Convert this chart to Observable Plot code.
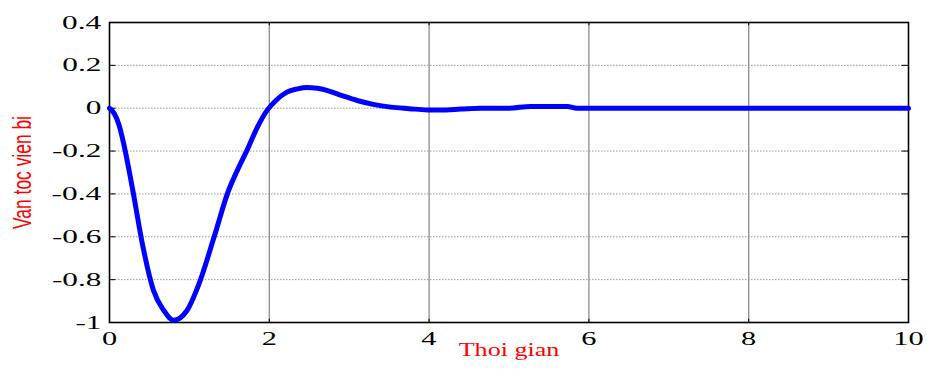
<!DOCTYPE html>
<html><head><meta charset="utf-8">
<script src="https://cdn.jsdelivr.net/npm/d3@7"></script>
<script src="https://cdn.jsdelivr.net/npm/@observablehq/plot@0.6"></script>
<style>
body{margin:0;background:#fff;}
</style>
</head><body>
<div id="chart"></div>
<script>
const time = [0,0.06,0.12,0.18,0.24,0.30,0.41,0.55,0.68,0.8,0.97,1.12,1.31,1.49,1.6,1.72,1.85,1.97,2.08,2.22,2.35,2.47,2.6,2.72,2.9,3.1,3.3,3.52,3.75,3.98,4.14,4.4,4.64,5.0,5.27,5.73,5.85,6,7,8,9,10];
const speed = [0,-0.025,-0.08,-0.17,-0.28,-0.40,-0.63,-0.85,-0.944,-0.99,-0.944,-0.82,-0.60,-0.384,-0.29,-0.197,-0.089,-0.011,0.035,0.075,0.09,0.097,0.093,0.083,0.06,0.036,0.018,0.005,-0.002,-0.008,-0.008,-0.004,0,0,0.008,0.008,0,0,0,0,0,0];
const xTicks = [0,2,4,6,8,10];
const xTickLabels = ["0","2","4","6","8","10"];
const yTicks = [0.4,0.2,0,-0.2,-0.4,-0.6,-0.8,-1];
const yTickLabels = ["0.4","0.2","0","-0.2","-0.4","-0.6","-0.8","-1"];
const xLabel = "Thoi gian";
const yLabel = "Van toc vien bi";

const data = time.map((t,i)=>({t, v: speed[i]}));
const innerY = yTicks.filter(v => v !== 0.4 && v !== -1);
const innerX = xTicks.filter(v => v !== 0 && v !== 10);
const serif = "'Liberation Serif', 'Times New Roman', serif";

const chart = Plot.plot({
  width: 927, height: 369,
  marginLeft: 109, marginRight: 19, marginTop: 22, marginBottom: 47,
  style: {fontFamily: serif, fontSize: "19px", color: "#000", background: "#fff"},
  x: {domain: [0,10]},
  y: {domain: [-1,0.4]},
  marks: [
    Plot.ruleY(innerY, {stroke: "#999", strokeWidth: 1, strokeDasharray: "1.5,1.5"}),
    Plot.ruleX(innerX, {stroke: "#8c8c8c", strokeWidth: 1.3}),
    Plot.ruleY(yTicks, {x1: 0, x2: 0.08, stroke: "#000", strokeWidth: 1}),
    Plot.ruleY(yTicks, {x1: 9.92, x2: 10, stroke: "#000", strokeWidth: 1}),
    Plot.ruleX(xTicks, {y1: -1, y2: -0.985, stroke: "#000", strokeWidth: 1}),
    Plot.ruleX(xTicks, {y1: 0.385, y2: 0.4, stroke: "#000", strokeWidth: 1}),
    Plot.frame({stroke: "#000", strokeWidth: 1.6}),
    Plot.axisX(xTicks, {tickSize: 0, tickPadding: 9, tickFormat: (d,i) => xTickLabels[i], label: null}),
    Plot.axisY(yTicks, {tickSize: 0, tickPadding: 8, tickFormat: (d,i) => yTickLabels[i], label: null}),
    Plot.line(data, {x: "t", y: "v", stroke: "#0000ff", strokeWidth: 5, curve: "monotone-x"}),
    Plot.text([xLabel], {frameAnchor: "bottom", dy: 33, text: d => d, fill: "#ff0000", fontSize: 18, fontFamily: serif}),
    Plot.text([yLabel], {frameAnchor: "left", textAnchor: "middle", dx: -87, rotate: -90, text: d => d, fill: "#ff0000", fontSize: 20, fontFamily: "'Liberation Sans', Arial, sans-serif"})
  ]
});
document.getElementById("chart").appendChild(chart);

function stretch(el, sx, sy, anchor) {
  const b = el.getBBox();
  const ax = anchor === "end" ? b.x + b.width : b.x + b.width / 2;
  const ay = b.y + b.height / 2;
  const t = el.getAttribute("transform") || "";
  el.setAttribute("transform", `${t} translate(${ax},${ay}) scale(${sx},${sy}) translate(${-ax},${-ay})`);
}
const svg = d3.select(chart);
svg.selectAll('g[aria-label="x-axis tick label"] text').each(function() {
  this.style.fontFamily = serif; this.style.fontSize = "19px"; this.style.fill = "#000";
  stretch(this, 1.6, 1, "middle");
});
svg.selectAll('g[aria-label="y-axis tick label"] text').each(function() {
  this.style.fontFamily = serif; this.style.fontSize = "19px"; this.style.fill = "#000";
  stretch(this, 1.65, 1, "end");
});
svg.selectAll('text').filter(function() { return this.textContent === xLabel; }).each(function() {
  stretch(this, 1.45, 1, "middle");
});
svg.selectAll('text').filter(function() { return this.textContent === yLabel; }).each(function() {
  const b = this.getBBox();
  stretch(this, 113 / b.width, 1.3, "middle");
});
</script>
</body></html>
